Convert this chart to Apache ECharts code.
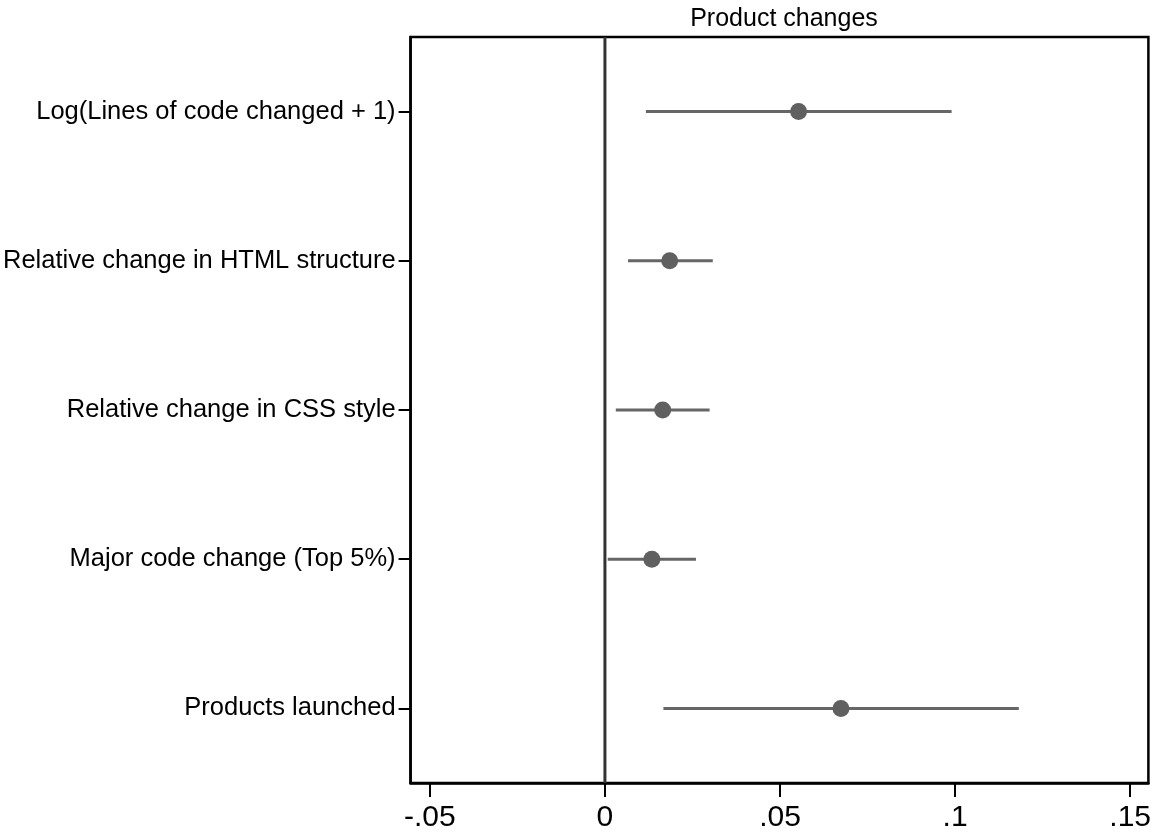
<!DOCTYPE html>
<html>
<head>
<meta charset="utf-8">
<script src="https://cdn.jsdelivr.net/npm/echarts@6/dist/echarts.min.js"></script>
<style>
  html, body { margin: 0; padding: 0; background: #fff; }
  #chart { width: 1154px; height: 835px; }
</style>
</head>
<body>
<div id="chart"></div>
<script>
const categories = [
  'Log(Lines of code changed + 1)',
  'Relative change in HTML structure',
  'Relative change in CSS style',
  'Major code change (Top 5%)',
  'Products launched'
];
const estimates = [0.0553, 0.0185, 0.0165, 0.0134, 0.0674];
const ciLow     = [0.0117, 0.0066, 0.0031, 0.0008, 0.0167];
const ciHigh    = [0.0990, 0.0308, 0.0299, 0.0260, 0.1182];
const xTicks = [-0.05, 0, 0.05, 0.1, 0.15];
const xTickLabels = ['-.05', '0', '.05', '.1', '.15'];
const titleText = 'Product changes';

const FONT = '"Liberation Sans", Arial, Helvetica, sans-serif';
const chart = echarts.init(document.getElementById('chart'));

const ciData = categories.map((c, i) => [ciLow[i], ciHigh[i], i]);
const pointData = categories.map((c, i) => [estimates[i], i]);

chart.setOption({
  animation: false,
  backgroundColor: '#fff',
  title: {
    text: titleText,
    left: 779,
    top: 2,
    textAlign: 'center',
    textStyle: { fontFamily: FONT, fontSize: 25, fontWeight: 'normal', color: '#000' }
  },
  grid: {
    left: 409, right: 5, top: 37, bottom: 52,
    show: true, borderColor: '#000', borderWidth: 2.5, backgroundColor: 'transparent'
  },
  xAxis: {
    type: 'value',
    min: -0.0555,
    max: 0.1552,
    splitLine: { show: false },
    axisLine: { show: true, onZero: false, lineStyle: { color: '#000', width: 2.5 } },
    axisTick: { show: true, length: 14, lineStyle: { color: '#000', width: 2 }, customValues: xTicks },
    axisLabel: {
      customValues: xTicks,
      margin: 20,
      fontFamily: FONT, fontSize: 30, color: '#000',
      formatter: function (v) {
        const i = xTicks.findIndex(t => Math.abs(t - v) < 1e-9);
        return i >= 0 ? xTickLabels[i] : '';
      }
    }
  },
  yAxis: {
    type: 'category',
    data: categories,
    inverse: true,
    boundaryGap: true,
    splitLine: { show: false },
    axisLine: { show: true, onZero: false, lineStyle: { color: '#000', width: 2.5 } },
    axisTick: { show: true, alignWithLabel: true, length: 12, lineStyle: { color: '#000', width: 2 } },
    axisLabel: { margin: 15, fontFamily: FONT, fontSize: 25.5, color: '#000' }
  },
  series: [
    {
      type: 'custom',
      name: 'zero',
      data: [[0]],
      renderItem: function (params, api) {
        const cs = params.coordSys;
        const x = api.coord([0, 0])[0];
        return {
          type: 'line',
          shape: { x1: x, y1: cs.y, x2: x, y2: cs.y + cs.height },
          style: { stroke: '#333', lineWidth: 3 }
        };
      },
      z: 1
    },
    {
      type: 'custom',
      name: 'CI',
      data: ciData,
      encode: { x: [0, 1], y: 2 },
      renderItem: function (params, api) {
        const y = api.value(2);
        const p1 = api.coord([api.value(0), y]);
        const p2 = api.coord([api.value(1), y]);
        return {
          type: 'line',
          shape: { x1: p1[0], y1: p1[1], x2: p2[0], y2: p2[1] },
          style: { stroke: '#666', lineWidth: 3 }
        };
      },
      z: 2
    },
    {
      type: 'scatter',
      name: 'Estimate',
      data: pointData,
      symbol: 'circle',
      symbolSize: 17,
      itemStyle: { color: '#606060', opacity: 1 },
      z: 3
    }
  ]
});
</script>
</body>
</html>
